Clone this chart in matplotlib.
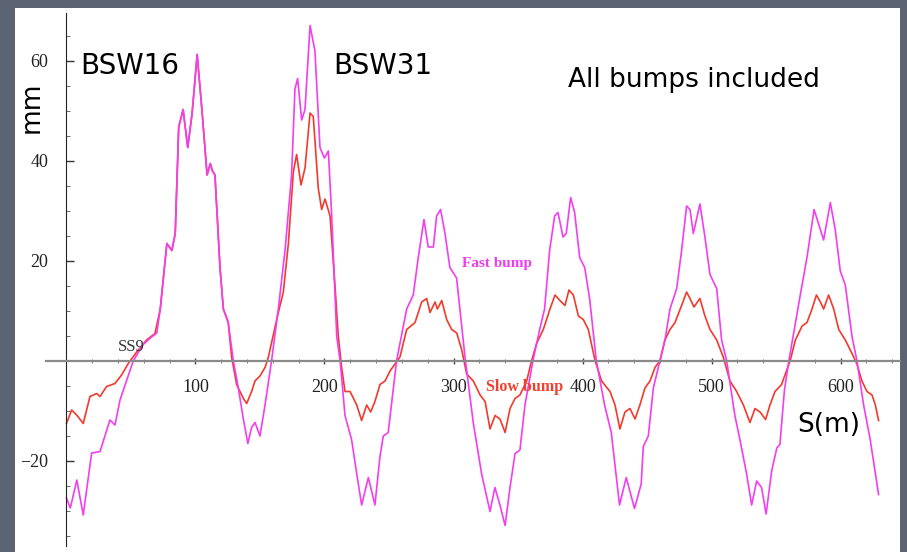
import numpy as np
import matplotlib
matplotlib.use('Agg')
import matplotlib.pyplot as plt

# orbit offset along the ring, fast bump (magenta)
s_fast = [0, 3, 8, 13, 19.5, 26, 33.7, 37.6, 41.5, 51.6, 59, 65, 70,
          72.7, 77.8, 81.7, 84.3, 87, 90.4, 94, 97.4, 101.3, 105.2, 109, 111.5, 113, 115.1,
          119, 121.6, 125.4, 129.3, 133.2, 137.1, 140.6, 143.5, 146.1, 150, 153.9, 159,
          164.2, 169.4, 174.5, 177.1, 179.2, 182.3, 184.9, 188.8, 192.6, 196.5, 199.9, 203,
          205.6, 209.5, 212.1, 215.9, 221, 225, 228.8, 234, 239.1, 243, 245.6, 249.4, 255.9,
          263.7, 268.8, 272.7, 277.1, 280.4, 284.4, 286.9, 290, 293.4, 297.2, 302.4, 308.9,
          315.3, 321.8, 328.3, 332.1, 336, 340, 343.8, 347.7, 351.5, 355.4, 361.6,
          366.8, 370.6, 374.5, 378.4, 381, 384.9, 387.4, 390.8, 393.9, 397.8, 401.7, 405.5,
          410.7, 417.1, 422.3, 428.7, 433.9, 440.3, 445.5, 447.1, 451, 454.9, 460.1,
          463.9, 467.8, 473, 476.8, 480.7, 483.3, 485.9, 491, 494.9, 498.8, 504, 507.8,
          511.7, 518.1, 522, 527.2, 531.1, 535, 538.8, 542.3, 546.7, 550.6, 553, 556.5, 560,
          564, 568.8, 574, 579.5, 586.9, 592.1, 596, 599.8, 603.7, 608.9, 612.7, 617.9, 623,
          629.5]
v_fast = [-27.5, -29.5, -23.9, -30.9, -18.5, -18.2, -11.9, -12.9, -7.9, -0.2, 3.1, 4.5, 5.5,
          10.3, 23.4, 22.0, 25.4, 46.7, 50.2, 42.6, 49.5, 61.2, 49.5, 37.1, 39.4, 38.0, 37.1,
          18.6, 10.3, 7.6, 0, -5.5, -11.7, -16.6, -13.4, -12.4, -15.1, -8.9, 0,
          10.3, 22.0, 37.1, 54.3, 56.4, 48.1, 50.2, 67.0, 61.9, 42.6, 40.5, 41.9,
          28.9, 4.8, 0, -11.0, -15.8, -22.7, -28.9, -23.4, -28.9, -19.2, -15.1, -14.4, 0,
          10.3, 13.1, 20.6, 28.2, 22.7, 22.7, 28.9, 30.2, 25.4, 18.6, 16.5, 0.7,
          -12.4, -22.7, -30.2, -25.4, -28.9, -33.0, -25.4, -18.6, -17.9, -8.9, 0,
          6.2, 10.3, 22.0, 28.9, 29.6, 24.7, 25.4, 32.6, 29.6, 20.6, 18.6, 12.4,
          0, -8.9, -14.4, -28.9, -23.4, -29.6, -24.7, -17.2, -15.1, -5.5, 0,
          4.1, 10.3, 14.4, 22.0, 30.9, 30.2, 25.4, 31.3, 24.7, 17.2, 14.4, 4.1,
          0, -11.0, -15.8, -22.7, -28.9, -24.1, -25.4, -30.7, -22.0, -17.5, -16.8, -6.0, 0,
          6.0, 13.1, 20.6, 30.2, 24.1, 31.6, 26.0, 17.9, 15.1, 4.8, 0, -8.9, -15.8,
          -26.8]

# slow bump (red); follows the fast bump around BSW16
s_slow = [0, 4, 7.9, 13, 18.2, 23.4, 26, 31.1, 37.6, 42.7, 47.9, 54.4, 62.1, 68.6,
          72.7, 77.8, 81.7, 84.3, 87, 90.4, 94, 97.4, 101.3, 105.2, 109, 111.5, 113, 115.1,
          119, 121.6, 125.4, 128,
          131.9, 137.1, 139.7, 143.5, 146.1, 150, 153.9, 156.5, 164.2, 168.1, 172, 175.9,
          178.4, 181.8, 184.9, 188.8, 191.3, 195.2, 197.8, 200.4, 204.3, 208.1, 210.7, 213.3,
          215.9, 219.8, 225, 228.8, 232.7, 235.8, 239.1, 243, 246.9, 250.8, 258.5, 263.7,
          270.2, 275.3, 279.2, 281.8, 285.7, 287.5, 290.9, 294.7, 298.6, 302.5, 306.4, 310.2,
          315.4, 320.6, 324.5, 328.3, 332.2, 336, 340, 343.8, 347.7, 351.5, 356.7, 360.6,
          364.4, 369.6, 374.8, 378.7, 382.5, 386.4, 389.5, 392.9, 396.8, 400.6, 404.5, 409.7,
          414.8, 421.3, 425.2, 429, 432.9, 436.8, 440.7, 444.5, 448.4, 452.3, 456.2, 460.1,
          463.9, 467.8, 471.7, 476.8, 480.7, 483.3, 486.4, 491, 494.9, 498.8, 504, 509.1,
          514.3, 519.5, 524.7, 529.8, 533.7, 537.6, 541.9, 545.3, 549.2, 554.3, 558.1, 561,
          565, 570.2, 574, 577.9, 581.3, 584.4, 586.9, 590.8, 594.7, 598.6, 603.7, 608.9,
          612.7, 616.6, 620.5, 624.4, 627, 629.5]
v_slow = [-12.6, -9.9, -10.9, -12.6, -7.2, -6.6, -7.2, -5.2, -4.6, -2.9, -0.6, 1.7, 4.1, 5.4,
          10.3, 23.4, 22.0, 25.4, 46.7, 50.2, 42.6, 49.5, 61.2, 49.5, 37.1, 39.4, 38.0, 37.1,
          18.6, 10.3, 7.6, 0.7,
          -4.8, -7.6, -8.6, -6.2, -4.1, -3.1, -1.4, 0.7, 9.6, 13.7, 23.4, 37.8,
          41.2, 35.1, 38.5, 49.5, 48.8, 34.4, 30.2, 32.3, 28.9, 15.1, 4.8, -1.4,
          -6.2, -6.2, -8.9, -12.0, -8.9, -10.3, -8.2, -4.8, -4.1, -2.1, 0.7, 6.2,
          7.6, 11.7, 12.4, 9.6, 11.7, 10.3, 12.0, 8.2, 6.2, 5.5, 2.1, -2.7,
          -4.1, -6.9, -8.2, -13.7, -11.0, -11.7, -14.4, -9.6, -7.6, -6.9, -4.1, 0,
          3.4, 6.2, 10.3, 13.1, 12.0, 11.0, 14.1, 13.1, 8.9, 8.2, 6.2, 0,
          -4.1, -6.2, -8.9, -13.7, -10.3, -9.6, -11.7, -8.9, -5.5, -4.1, -1.4, 0,
          4.1, 6.2, 7.6, 11.0, 13.7, 12.4, 10.7, 12.4, 8.9, 6.2, 4.1, 0.7,
          -4.1, -6.2, -8.9, -12.4, -9.6, -10.3, -11.8, -8.9, -6.2, -4.8, -2.1, 0,
          4.1, 6.9, 7.6, 10.3, 13.1, 11.7, 10.3, 13.1, 10.3, 6.2, 4.1, 1.4,
          -0.7, -4.1, -6.2, -6.9, -8.9, -12.0]

x_major = [100, 200, 300, 400, 500, 600]
y_major = [-20, 20, 40, 60]

fig = plt.figure(figsize=(9.07, 5.52), dpi=100, facecolor='#5c6372')
ax = fig.add_axes([15 / 907, 0, 885 / 907, 544 / 552])
ax.set_facecolor('white')

ax.plot(s_slow, v_slow, color='#f23a2c', lw=1.2)
ax.plot(s_fast, v_fast, color='#f23ef0', lw=1.2)

ax.set_xlim(-39.9, 646.1)
ax.set_ylim(-38.3, 70.5)

# axes cross at the origin, Mathematica style
for side in ['top', 'right']:
    ax.spines[side].set_visible(False)
ax.spines['left'].set_position(('data', 0))
ax.spines['bottom'].set_position(('data', 0))
ax.spines['left'].set_bounds(-37, 69.5)
ax.spines['bottom'].set_bounds(-16, 646)
ax.spines['left'].set_color('#222222')
ax.spines['bottom'].set_color('#8a8a8a')
ax.spines['bottom'].set_linewidth(1.6)

ax.set_xticks(x_major)
ax.set_xticks(np.arange(20, 641, 20), minor=True)
ax.set_yticks(y_major)
ax.set_yticks(np.arange(-35, 70, 5), minor=True)
ax.tick_params(axis='x', which='major', direction='inout', length=5, width=1,
               color='#444444', pad=11, labelsize=13, labelcolor='#222222')
ax.tick_params(axis='x', which='minor', direction='inout', length=3, color='#666666')
ax.tick_params(axis='y', which='major', direction='in', length=6, width=1,
               color='#333333', pad=13, labelsize=13, labelcolor='#222222')
ax.tick_params(axis='y', which='minor', direction='in', length=3, color='#555555')
for lab in ax.get_xticklabels() + ax.get_yticklabels():
    lab.set_fontfamily('Liberation Serif')
ax.set_yticklabels(['\u221220', '20', '40', '60'])

# curve labels
ax.text(333.7, 19.5, 'Fast bump', color='#f03cef', fontsize=11, fontweight='bold',
        family='Liberation Serif', ha='center', va='center')
ax.text(354.7, -5.3, 'Slow bump', color='#f0402e', fontsize=11.5, fontweight='bold',
        family='Liberation Serif', ha='center', va='center')
ax.text(50, 2.7, 'SS9', color='#333333', fontsize=12,
        family='Liberation Serif', ha='center', va='center')

W, H = 907, 552
def ftext(x, y, s, **kw):
    fig.text(x / W, 1 - y / H, s, color='black', family='DejaVu Sans', **kw)

ftext(80, 66, 'BSW16', fontsize=20, ha='left', va='center')
ftext(333, 66, 'BSW31', fontsize=20, ha='left', va='center')
ftext(568, 80, 'All bumps included', fontsize=19, ha='left', va='center')
ftext(32, 107, 'mm', fontsize=19, ha='center', va='center', rotation=90)
ftext(829, 425, 'S(m)', fontsize=19, ha='center', va='center')

fig.savefig('out.png', dpi=100, facecolor=fig.get_facecolor())
